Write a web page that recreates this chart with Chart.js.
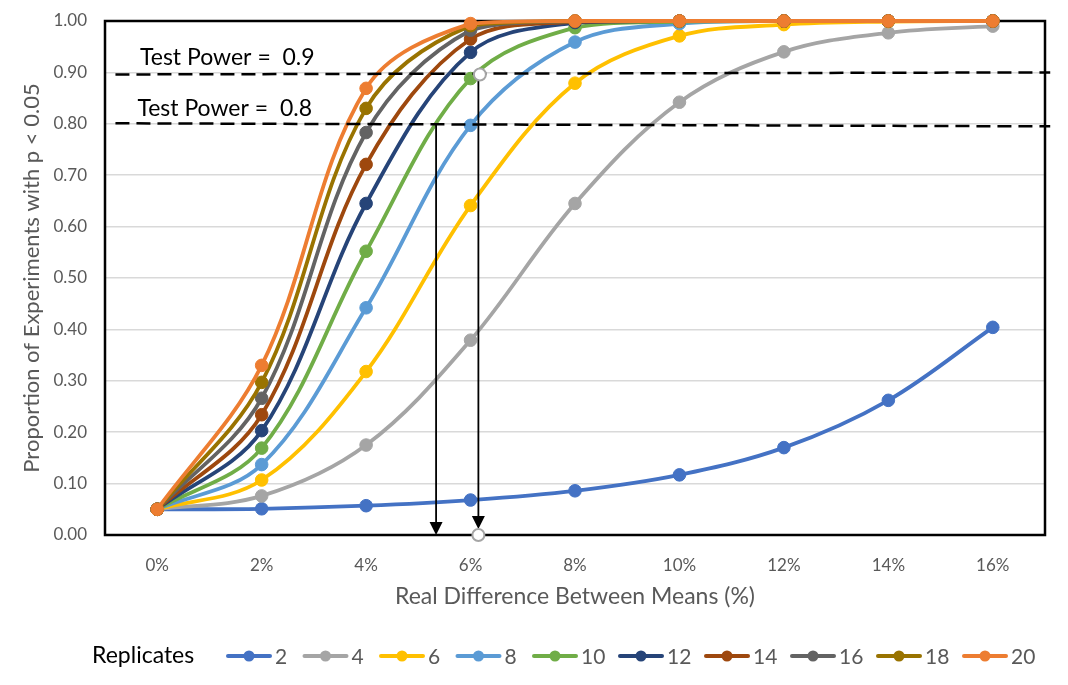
<!DOCTYPE html>
<html><head><meta charset="utf-8">
<script src="https://cdn.jsdelivr.net/npm/chart.js@4.4.1/dist/chart.umd.min.js"></script>
<style>html,body{margin:0;padding:0;background:#fff;}#wrap{width:1068px;height:685px;position:relative;}</style>
</head><body><div id="wrap"><canvas id="c"></canvas></div>
<script>
// ---- data ----
const categories = ['0%','2%','4%','6%','8%','10%','12%','14%','16%'];
const replicateLabels = ['2','4','6','8','10','12','14','16','18','20'];
const rep2  = [0.050,0.051,0.057,0.068,0.086,0.117,0.170,0.262,0.404];
const rep4  = [0.050,0.076,0.175,0.379,0.645,0.842,0.940,0.977,0.990];
const rep6  = [0.050,0.107,0.318,0.641,0.879,0.971,0.993,0.999,1.000];
const rep8  = [0.050,0.137,0.442,0.797,0.959,0.995,1.000,1.000,1.000];
const rep10 = [0.050,0.169,0.552,0.888,0.987,0.999,1.000,1.000,1.000];
const rep12 = [0.050,0.203,0.645,0.939,0.997,1.000,1.000,1.000,1.000];
const rep14 = [0.050,0.234,0.721,0.965,0.999,1.000,1.000,1.000,1.000];
const rep16 = [0.050,0.266,0.783,0.982,1.000,1.000,1.000,1.000,1.000];
const rep18 = [0.050,0.297,0.830,0.991,1.000,1.000,1.000,1.000,1.000];
const rep20 = [0.050,0.330,0.869,0.995,1.000,1.000,1.000,1.000,1.000];
const seriesValues = [rep2,rep4,rep6,rep8,rep10,rep12,rep14,rep16,rep18,rep20];
const seriesColors = ['#4472C4','#A5A5A5','#FFC000','#5B9BD5','#70AD47','#264478','#9E480E','#636363','#997300','#ED7D31'];

// annotation values (difference in %, proportion)
const powerLabels = ['Test Power =  0.9','Test Power =  0.8'];
const powerLineLeft = [0.896, 0.801];
const powerLineRight = [0.900, 0.795];
const powerLineSpan = [-0.8, 17.1];
const powerLabelPos = [[-0.33, 0.928],[-0.38, 0.830]];
const arrowDiff = [5.34, 6.15];
const arrowTop = [0.801, 0.896];

const FONT = 'Lato, "Open Sans", sans-serif';
const GREY = '#595959';

const pctToIdx = p => p / 2;

const framePlugin = {
  id: 'frame',
  beforeDatasetsDraw(chart) {
    const {ctx, chartArea: a} = chart;
    ctx.save();
    ctx.strokeStyle = '#000'; ctx.lineWidth = 2.5;
    ctx.strokeRect(a.left, a.top, a.right - a.left, a.bottom - a.top);
    ctx.restore();
  },
  afterDatasetsDraw(chart) {
    const ctx = chart.ctx, xs = chart.scales.x, ys = chart.scales.y;
    const px = p => xs.getPixelForValue(pctToIdx(p));
    ctx.save();
    // dashed power lines
    ctx.strokeStyle = '#000'; ctx.lineWidth = 2.5; ctx.setLineDash([14, 7]);
    for (let i = 0; i < powerLabels.length; i++) {
      ctx.beginPath();
      ctx.moveTo(px(powerLineSpan[0]), ys.getPixelForValue(powerLineLeft[i]));
      ctx.lineTo(px(powerLineSpan[1]), ys.getPixelForValue(powerLineRight[i]));
      ctx.stroke();
    }
    ctx.setLineDash([]);
    // labels
    ctx.fillStyle = '#000'; ctx.font = '23px ' + FONT; ctx.textAlign = 'left'; ctx.textBaseline = 'middle';
    for (let i = 0; i < powerLabels.length; i++) {
      ctx.fillText(powerLabels[i], px(powerLabelPos[i][0]), ys.getPixelForValue(powerLabelPos[i][1]));
    }
    // arrows
    const y0 = ys.getPixelForValue(0);
    for (let i = 0; i < arrowDiff.length; i++) {
      const x = px(arrowDiff[i]);
      const yt = ys.getPixelForValue(arrowTop[i]);
      const tip = i === 0 ? y0 : y0 - 6;
      ctx.strokeStyle = '#000'; ctx.lineWidth = 1.8;
      ctx.beginPath(); ctx.moveTo(x, yt); ctx.lineTo(x, tip - 10); ctx.stroke();
      ctx.fillStyle = '#000';
      ctx.beginPath(); ctx.moveTo(x - 6.5, tip - 13); ctx.lineTo(x + 6.5, tip - 13); ctx.lineTo(x, tip); ctx.closePath(); ctx.fill();
    }
    // open circles on second arrow
    const xc = px(arrowDiff[1]);
    [[xc + 1.5, ys.getPixelForValue(arrowTop[1])], [xc, y0]].forEach(([cx, cy]) => {
      ctx.beginPath(); ctx.arc(cx, cy, 6, 0, Math.PI * 2);
      ctx.fillStyle = '#fff'; ctx.fill();
      ctx.lineWidth = 2; ctx.strokeStyle = '#A5A5A5'; ctx.stroke();
    });
    ctx.restore();
  },
  afterDraw(chart) {
    const ctx = chart.ctx;
    ctx.save();
    const cy = 656;
    ctx.textBaseline = 'middle'; ctx.textAlign = 'left';
    ctx.font = '23px ' + FONT; ctx.fillStyle = '#000';
    ctx.fillText('Replicates', 92, cy);
    ctx.font = '21px ' + FONT;
    let x = 226;
    chart.data.datasets.forEach(ds => {
      ctx.strokeStyle = ds.borderColor; ctx.lineWidth = 4; ctx.lineCap = 'round';
      ctx.beginPath(); ctx.moveTo(x + 2, cy); ctx.lineTo(x + 44, cy); ctx.stroke();
      ctx.fillStyle = ds.borderColor;
      ctx.beginPath(); ctx.arc(x + 23, cy, 5.5, 0, Math.PI * 2); ctx.fill();
      ctx.fillStyle = GREY;
      ctx.fillText(ds.label, x + 49, cy + 1);
      x += 67 + 9.5 * ds.label.length;
    });
    ctx.restore();
  }
};

const datasets = seriesValues.map((vals, i) => ({
  label: replicateLabels[i],
  data: vals,
  borderColor: seriesColors[i],
  backgroundColor: seriesColors[i],
  pointBackgroundColor: seriesColors[i],
  pointBorderColor: seriesColors[i],
  pointBorderWidth: 1,
  pointRadius: 6.3,
  borderWidth: 3.8,
  tension: 0.35,
  fill: false,
  clip: false,
  order: seriesValues.length - i
}));

new Chart(document.getElementById('c'), {
  type: 'line',
  data: { labels: categories, datasets },
  options: {
    responsive: true,
    maintainAspectRatio: false,
    animation: false,
    events: [],
    layout: { padding: { top: 21, right: 23, bottom: 75, left: 0 } },
    plugins: { legend: { display: false }, tooltip: { enabled: false } },
    scales: {
      x: {
        offset: true,
        grid: { display: false, drawTicks: false },
        border: { display: false },
        ticks: { color: GREY, font: { family: FONT, size: 17 }, padding: 20, maxRotation: 0 },
        title: { display: true, text: 'Real Difference Between Means (%)', color: GREY, font: { family: FONT, size: 23 }, padding: { top: 0, bottom: 0 } },
        afterFit(s) { s.height = 75; s.paddingLeft = 0; s.paddingRight = 0; }
      },
      y: {
        min: 0, max: 1,
        grid: { color: '#D9D9D9', lineWidth: 1.5, drawTicks: false },
        border: { display: false },
        ticks: { stepSize: 0.1, color: GREY, font: { family: FONT, size: 17 }, padding: 18, callback: v => v.toFixed(2) },
        title: { display: true, text: 'Proportion of Experiments with p < 0.05', color: GREY, font: { family: FONT, size: 22 }, padding: { top: 19, bottom: 0 } },
        afterFit(s) { s.width = 105; s.paddingTop = 0; s.paddingBottom = 0; }
      }
    }
  },
  plugins: [framePlugin]
});
</script></body></html>
